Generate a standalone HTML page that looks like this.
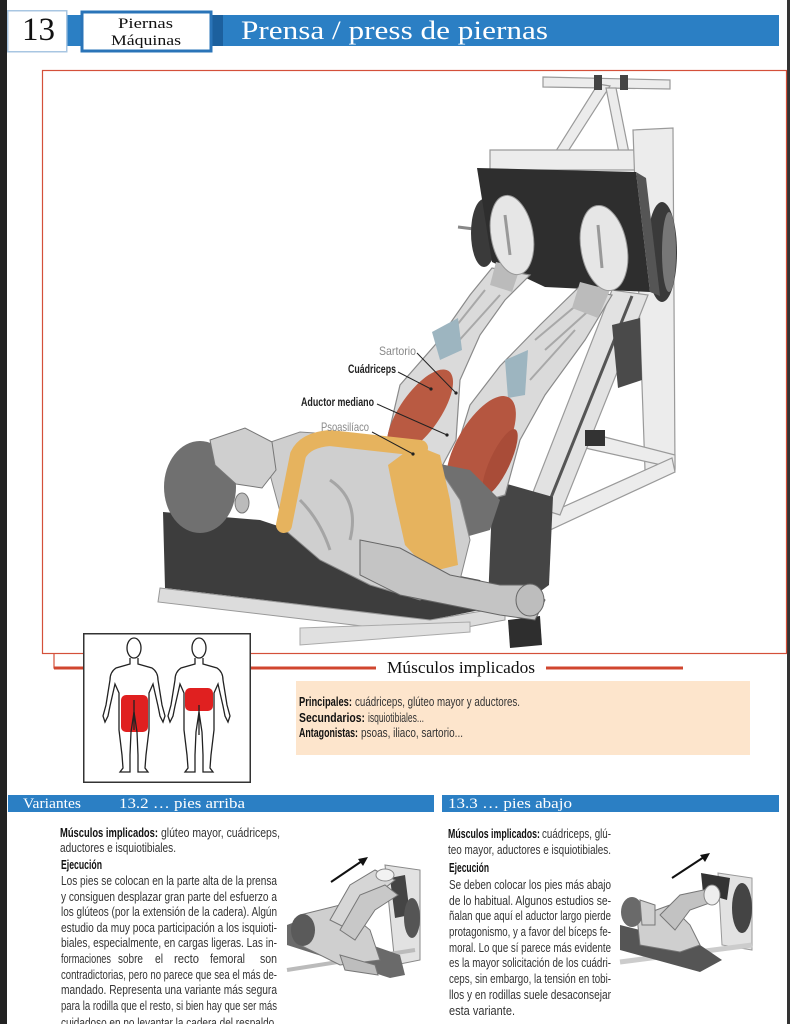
<!DOCTYPE html>
<html><head><meta charset="utf-8"><style>
html,body{margin:0;padding:0;background:#fff;}
svg{display:block;}
.s{font-family:"Liberation Sans Narrow","Liberation Sans",sans-serif;}
.f{font-family:"Liberation Serif",serif;}
</style></head><body>
<svg width="790" height="1024" viewBox="0 0 790 1024" xmlns="http://www.w3.org/2000/svg">
<rect x="0" y="0" width="790" height="1024" fill="#fff"/>
<rect x="0" y="0" width="7" height="1024" fill="#222"/>
<rect x="787" y="0" width="3" height="1024" fill="#333"/>

<!-- HEADER -->
<rect x="67" y="15" width="712" height="31" fill="#2b7fc4"/>
<rect x="7.75" y="10.75" width="59" height="41" fill="#fff" stroke="#a8c6e2" stroke-width="1.5"/>
<text class="f" x="22" y="40" font-size="33" fill="#111" textLength="33" lengthAdjust="spacingAndGlyphs">13</text>
<rect x="212" y="15" width="11" height="31" fill="#1c609e"/>
<rect x="82" y="12" width="129" height="39" fill="#fff" stroke="#2a74b8" stroke-width="3"/>
<text class="f" x="118" y="28" font-size="15" fill="#111" textLength="55" lengthAdjust="spacingAndGlyphs">Piernas</text>
<text class="f" x="111" y="45" font-size="15" fill="#111" textLength="70" lengthAdjust="spacingAndGlyphs">Máquinas</text>
<text class="f" x="241" y="39" font-size="26" fill="#fff" textLength="307" lengthAdjust="spacingAndGlyphs">Prensa / press de piernas</text>

<!-- FRAME -->
<rect x="42.5" y="70.5" width="744" height="583" fill="none" stroke="#d4503a" stroke-width="1.2"/>

<!-- ILLUSTRATION: machine -->
<g stroke="#9a9a9a" stroke-width="1.2" fill="#ececec">
  <polygon points="543,77 670,80 670,89 543,87"/>
  <polygon points="598,84 610,86 556,170 544,170"/>
  <polygon points="606,88 616,88 632,168 622,168"/>
  <polygon points="490,150 640,150 640,170 490,170"/>
  <polygon points="633,130 673,128 675,470 645,470"/>
  <polygon points="585,432 675,455 675,468 585,448"/>
  <polygon points="545,515 672,458 675,472 550,530"/>
  <polygon points="612,290 648,295 560,515 528,505" fill="#e2e2e2"/>
</g>
<rect x="594" y="75" width="8" height="15" fill="#444"/>
<rect x="620" y="75" width="8" height="15" fill="#444"/>
<line x1="632" y1="296" x2="546" y2="510" stroke="#555" stroke-width="3"/>
<polygon points="612,325 640,318 642,380 618,388" fill="#4a4a4a"/>
<rect x="585" y="430" width="20" height="16" fill="#333"/>
<line x1="458" y1="227" x2="474" y2="229" stroke="#888" stroke-width="3"/>
<ellipse cx="484" cy="233" rx="13" ry="34" fill="#3a3a3a"/>
<ellipse cx="662" cy="252" rx="15" ry="50" fill="#3a3a3a"/>
<ellipse cx="669" cy="252" rx="7" ry="40" fill="#777"/>
<polygon points="477,168 636,172 650,292 545,287 492,262" fill="#2e2e2e"/>
<polygon points="636,172 646,178 660,296 650,292" fill="#555"/>

<!-- bench -->
<polygon points="163,512 260,520 380,560 480,580 505,605 430,620 165,588" fill="#3d3d3d"/>
<polygon points="160,588 430,620 505,607 505,620 430,634 158,602" fill="#dcdcdc" stroke="#999"/>
<polygon points="493,480 553,497 549,585 512,612 488,602" fill="#454545"/>
<polygon points="300,628 470,622 470,632 300,645" fill="#e0e0e0" stroke="#aaa"/>
<polygon points="508,620 540,616 542,645 510,648" fill="#2e2e2e"/>

<!-- legs -->
<g stroke="#8a8a8a" stroke-width="1.2" fill="#dadada">
  <polygon points="450,470 470,405 500,366 540,325 578,288 612,295 585,340 545,395 520,440 505,495 470,505"/>
  <polygon points="386,445 400,385 435,345 470,295 492,268 530,275 505,300 480,335 460,380 456,440 440,470 400,470"/>
</g>
<g stroke="#a8a8a8" stroke-width="2" fill="none">
  <path d="M445,340 L485,290"/><path d="M455,345 L500,295"/>
  <path d="M535,340 L585,298"/><path d="M545,350 L595,305"/><path d="M530,380 L575,330"/>
</g>
<polygon points="432,332 458,318 462,350 440,360" fill="#9db5c0"/>
<polygon points="505,360 528,350 525,395 508,398" fill="#9db5c0"/>
<ellipse cx="420" cy="412" rx="20" ry="50" transform="rotate(35 420 412)" fill="#b95a42"/>
<ellipse cx="481" cy="446" rx="24" ry="56" transform="rotate(30 481 446)" fill="#b55640"/>
<ellipse cx="500" cy="462" rx="10" ry="36" transform="rotate(25 500 462)" fill="#a94c38"/>
<polygon points="496,262 520,268 512,292 490,285" fill="#bbb"/>
<polygon points="580,282 610,290 598,318 572,308" fill="#bbb"/>
<ellipse cx="512" cy="235" rx="21" ry="40" transform="rotate(-10 512 235)" fill="#e6e6e6" stroke="#999"/>
<ellipse cx="604" cy="248" rx="23" ry="43" transform="rotate(-10 604 248)" fill="#e6e6e6" stroke="#999"/>
<path d="M505,215 L510,255 M598,225 L602,268" stroke="#999" stroke-width="3"/>

<!-- torso -->
<polygon points="420,460 470,470 500,500 490,530 455,540 430,510" fill="#707070"/>
<polygon points="262,445 300,432 360,436 420,452 440,470 460,500 470,540 460,580 420,600 370,585 320,560 285,530" fill="#cfcfcf" stroke="#888"/>
<path d="M330,480 Q360,500 350,540 M300,500 Q320,520 330,550" stroke="#a5a5a5" stroke-width="3" fill="none"/>
<path d="M284,525 L298,455 Q305,440 330,438 L420,448" stroke="#e6b35e" stroke-width="16" fill="none" stroke-linecap="round"/>
<polygon points="415,445 440,455 450,500 458,565 430,572 405,545 395,500 388,465" fill="#e6b35e"/>
<!-- head -->
<ellipse cx="200" cy="487" rx="36" ry="46" fill="#707070"/>
<polygon points="210,440 245,428 272,442 276,470 262,488 236,484 215,465" fill="#cfcfcf" stroke="#777"/>
<ellipse cx="242" cy="503" rx="7" ry="10" fill="#bbb" stroke="#777"/>
<!-- arm -->
<polygon points="360,540 400,548 450,575 500,585 530,585 545,600 535,620 500,615 450,605 400,595 360,575" fill="#c4c4c4" stroke="#666"/>
<ellipse cx="530" cy="600" rx="14" ry="16" fill="#bdbdbd" stroke="#666"/>

<!-- labels -->
<g stroke="#222" stroke-width="1" fill="none">
  <line x1="417" y1="353" x2="456" y2="393"/>
  <line x1="398" y1="372" x2="431" y2="389"/>
  <line x1="377" y1="404" x2="447" y2="435"/>
  <line x1="372" y1="432" x2="413" y2="454"/>
</g>
<g fill="#222"><circle cx="456" cy="393" r="1.6"/><circle cx="431" cy="389" r="1.6"/><circle cx="447" cy="435" r="1.6"/><circle cx="413" cy="454" r="1.6"/></g>
<text class="s" x="379" y="355" font-size="12" fill="#888" textLength="37" lengthAdjust="spacingAndGlyphs">Sartorio</text>
<text class="s" x="348" y="373" font-size="12" font-weight="bold" fill="#222" textLength="48" lengthAdjust="spacingAndGlyphs">Cuádriceps</text>
<text class="s" x="301" y="406" font-size="12" font-weight="bold" fill="#222" textLength="73" lengthAdjust="spacingAndGlyphs">Aductor mediano</text>
<text class="s" x="321" y="431" font-size="12" fill="#888" textLength="48" lengthAdjust="spacingAndGlyphs">Psoasilíaco</text>

<!-- MUSCLES SECTION -->
<path d="M54,653 V668 H83" stroke="#d4503a" stroke-width="1.2" fill="none"/>
<line x1="54" y1="668" x2="83" y2="668" stroke="#d0462f" stroke-width="3"/>
<line x1="251" y1="668" x2="376" y2="668" stroke="#d0462f" stroke-width="3"/>
<line x1="546" y1="668" x2="683" y2="668" stroke="#d0462f" stroke-width="3"/>
<text class="f" x="387" y="673" font-size="17" fill="#111" textLength="148" lengthAdjust="spacingAndGlyphs">Músculos implicados</text>

<rect x="83.75" y="633.75" width="166.5" height="148.5" fill="#fff" stroke="#333" stroke-width="1.5"/>
<rect x="121" y="695" width="27" height="37" rx="5" fill="#e02020"/>
<rect x="185" y="688" width="28" height="23" rx="5" fill="#e02020"/>
<g fill="none" stroke="#222" stroke-width="1.3">
  <g transform="translate(134,0)">
    <ellipse cx="0" cy="648" rx="7" ry="10"/>
    <path d="M-4,658 L-4,664 L-18,668 Q-24,672 -24,680 L-28,705 L-31,716 L-29,722 L-26,716 L-24,706 L-19,684 L-15,693 L-15,730 L-12,755 L-11,768 L-14,772 L-4,772 L-4,755 L-3,732 L0,712 L3,732 L4,755 L4,772 L14,772 L11,768 L12,755 L15,730 L15,693 L19,684 L24,706 L26,716 L29,722 L31,716 L28,705 L24,680 Q24,672 18,668 L4,664 L4,658"/>
    <line x1="0" y1="700" x2="0" y2="730"/>
  </g>
  <g transform="translate(199,0)">
    <ellipse cx="0" cy="648" rx="7" ry="10"/>
    <path d="M-4,658 L-4,664 L-18,668 Q-24,672 -24,680 L-28,705 L-31,716 L-29,722 L-26,716 L-24,706 L-19,684 L-15,693 L-15,730 L-12,755 L-11,768 L-14,772 L-4,772 L-4,755 L-3,732 L0,712 L3,732 L4,755 L4,772 L14,772 L11,768 L12,755 L15,730 L15,693 L19,684 L24,706 L26,716 L29,722 L31,716 L28,705 L24,680 Q24,672 18,668 L4,664 L4,658"/>
    <line x1="0" y1="705" x2="0" y2="735"/>
  </g>
</g>

<rect x="296" y="681" width="454" height="74" fill="#fde5cc"/>
<g class="s" font-size="12.5" fill="#333">
  <text x="299" y="706" font-weight="bold" fill="#111" textLength="53" lengthAdjust="spacingAndGlyphs">Principales:</text>
  <text x="355" y="706" textLength="165" lengthAdjust="spacingAndGlyphs">cuádriceps, glúteo mayor y aductores.</text>
  <text x="299" y="722" font-weight="bold" fill="#111" textLength="66" lengthAdjust="spacingAndGlyphs">Secundarios:</text>
  <text x="368" y="722" textLength="56" lengthAdjust="spacingAndGlyphs">isquiotibiales...</text>
  <text x="299" y="737" font-weight="bold" fill="#111" textLength="59" lengthAdjust="spacingAndGlyphs">Antagonistas:</text>
  <text x="361" y="737" textLength="102" lengthAdjust="spacingAndGlyphs">psoas, iliaco, sartorio...</text>
</g>

<!-- VARIANTS BARS -->
<rect x="8" y="795" width="426" height="17" fill="#2b7fc4"/>
<rect x="442" y="795" width="337" height="17" fill="#2b7fc4"/>
<g class="f" font-size="15" fill="#fff">
  <text x="23" y="808" textLength="58" lengthAdjust="spacingAndGlyphs">Variantes</text>
  <text x="119" y="808" textLength="126" lengthAdjust="spacingAndGlyphs">13.2 … pies arriba</text>
  <text x="448" y="808" textLength="124" lengthAdjust="spacingAndGlyphs">13.3 … pies abajo</text>
</g>

<!-- LEFT COLUMN -->
<g class="s" font-size="12.5" fill="#333">
  <text x="60" y="837" font-weight="bold" fill="#111" textLength="98" lengthAdjust="spacingAndGlyphs">Músculos implicados:</text>
  <text x="161" y="837" textLength="119" lengthAdjust="spacingAndGlyphs">glúteo mayor, cuádriceps,</text>
  <text x="60" y="852" textLength="116" lengthAdjust="spacingAndGlyphs">aductores e isquiotibiales.</text>
  <text x="61" y="869" font-weight="bold" fill="#111" textLength="41" lengthAdjust="spacingAndGlyphs">Ejecución</text>
  <text x="61" y="885" textLength="216" lengthAdjust="spacingAndGlyphs">Los pies se colocan en la parte alta de la prensa</text>
  <text x="61" y="901" textLength="216" lengthAdjust="spacingAndGlyphs">y consiguen desplazar gran parte del esfuerzo a</text>
  <text x="61" y="916" textLength="216" lengthAdjust="spacingAndGlyphs">los glúteos (por la extensión de la cadera). Algún</text>
  <text x="61" y="932" textLength="216" lengthAdjust="spacingAndGlyphs">estudio da muy poca participación a los isquioti-</text>
  <text x="61" y="947" textLength="216" lengthAdjust="spacingAndGlyphs">biales, especialmente, en cargas ligeras. Las in-</text>
  <text x="61" y="963" textLength="50" lengthAdjust="spacingAndGlyphs">formaciones</text>
  <text x="118" y="963" textLength="25" lengthAdjust="spacingAndGlyphs">sobre</text>
  <text x="155" y="963" textLength="8" lengthAdjust="spacingAndGlyphs">el</text>
  <text x="174" y="963" textLength="25" lengthAdjust="spacingAndGlyphs">recto</text>
  <text x="210" y="963" textLength="35" lengthAdjust="spacingAndGlyphs">femoral</text>
  <text x="260" y="963" textLength="17" lengthAdjust="spacingAndGlyphs">son</text>
  <text x="61" y="979" textLength="216" lengthAdjust="spacingAndGlyphs">contradictorias, pero no parece que sea el más de-</text>
  <text x="61" y="994" textLength="216" lengthAdjust="spacingAndGlyphs">mandado. Representa una variante más segura</text>
  <text x="61" y="1010" textLength="216" lengthAdjust="spacingAndGlyphs">para la rodilla que el resto, si bien hay que ser más</text>
  <text x="61" y="1027" textLength="216" lengthAdjust="spacingAndGlyphs">cuidadoso en no levantar la cadera del respaldo.</text>
</g>

<!-- RIGHT COLUMN -->
<g class="s" font-size="12.5" fill="#333">
  <text x="448" y="838" font-weight="bold" fill="#111" textLength="92" lengthAdjust="spacingAndGlyphs">Músculos implicados:</text>
  <text x="542" y="838" textLength="69" lengthAdjust="spacingAndGlyphs">cuádriceps, glú-</text>
  <text x="448" y="854" textLength="163" lengthAdjust="spacingAndGlyphs">teo mayor, aductores e isquiotibiales.</text>
  <text x="449" y="872" font-weight="bold" fill="#111" textLength="40" lengthAdjust="spacingAndGlyphs">Ejecución</text>
  <text x="449" y="889" textLength="162" lengthAdjust="spacingAndGlyphs">Se deben colocar los pies más abajo</text>
  <text x="449" y="905" textLength="162" lengthAdjust="spacingAndGlyphs">de lo habitual. Algunos estudios se-</text>
  <text x="449" y="920" textLength="162" lengthAdjust="spacingAndGlyphs">ñalan que aquí el aductor largo pierde</text>
  <text x="449" y="936" textLength="162" lengthAdjust="spacingAndGlyphs">protagonismo, y a favor del bíceps fe-</text>
  <text x="449" y="952" textLength="162" lengthAdjust="spacingAndGlyphs">moral. Lo que sí parece más evidente</text>
  <text x="449" y="967" textLength="162" lengthAdjust="spacingAndGlyphs">es la mayor solicitación de los cuádri-</text>
  <text x="449" y="983" textLength="162" lengthAdjust="spacingAndGlyphs">ceps, sin embargo, la tensión en tobi-</text>
  <text x="449" y="999" textLength="162" lengthAdjust="spacingAndGlyphs">llos y en rodillas suele desaconsejar</text>
  <text x="449" y="1015" textLength="66" lengthAdjust="spacingAndGlyphs">esta variante.</text>
</g>

<!-- SMALL IMAGE LEFT -->
<line x1="331" y1="882" x2="362" y2="861" stroke="#111" stroke-width="2"/>
<polygon points="368,857 358,859 363,866" fill="#111"/>
<polygon points="385,865 420,870 420,960 395,965" fill="#e2e2e2" stroke="#888"/>
<line x1="287" y1="970" x2="415" y2="950" stroke="#bbb" stroke-width="4"/>
<polygon points="287,925 300,920 400,955 405,975 390,978 287,945" fill="#6a6a6a"/>
<polygon points="390,878 405,875 410,915 395,918" fill="#444"/>
<ellipse cx="412" cy="918" rx="8" ry="20" fill="#555"/>
<polygon points="300,915 340,905 370,930 380,960 340,965 300,945" fill="#cfcfcf" stroke="#777"/>
<polygon points="330,920 350,885 375,870 395,880 370,900 350,930" fill="#d6d6d6" stroke="#777"/>
<polygon points="340,930 360,895 385,885 398,895 375,910 355,940" fill="#c8c8c8" stroke="#777"/>
<ellipse cx="385" cy="875" rx="9" ry="6" fill="#f2f2f2" stroke="#888"/>
<ellipse cx="303" cy="930" rx="12" ry="16" fill="#5a5a5a"/>
<polygon points="340,955 375,965 378,975 345,970" fill="#bdbdbd" stroke="#777"/>

<!-- SMALL IMAGE RIGHT -->
<line x1="672" y1="878" x2="704" y2="857" stroke="#111" stroke-width="2"/>
<polygon points="710,853 700,855 705,862" fill="#111"/>
<polygon points="718,873 752,878 752,950 722,945" fill="#e2e2e2" stroke="#999"/>
<line x1="620" y1="962" x2="752" y2="945" stroke="#ccc" stroke-width="5"/>
<polygon points="620,925 700,945 722,960 700,972 620,950" fill="#555"/>
<polygon points="701,873 730,878 727,900 703,893" fill="#333"/>
<ellipse cx="742" cy="908" rx="10" ry="25" fill="#444"/>
<polygon points="637,917 670,905 690,925 700,945 680,952 640,945" fill="#cfcfcf" stroke="#777"/>
<polygon points="660,915 680,895 713,888 718,900 690,910 675,930" fill="#c2c2c2" stroke="#777"/>
<ellipse cx="712" cy="895" rx="8" ry="10" fill="#eee" stroke="#888"/>
<ellipse cx="632" cy="912" rx="11" ry="15" fill="#6a6a6a"/>
<polygon points="640,900 655,905 655,925 642,925" fill="#d0d0d0" stroke="#777"/>
</svg>
</body></html>
